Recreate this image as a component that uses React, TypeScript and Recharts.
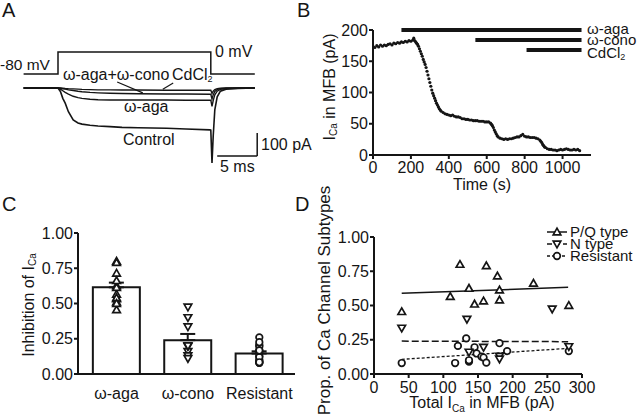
import React from "react";
import {
  ComposedChart,
  Line,
  Scatter,
  Bar,
  ErrorBar,
  XAxis,
  YAxis,
  ReferenceLine,
  Label,
} from "recharts";

const FONT = "'Liberation Sans', Arial, Helvetica, sans-serif";
const INK = "#151515";

// ---- A: example current traces (time in ms, current in pA)
const traceTime = [-4.3, -2.2, 0, 0.3, 0.6, 0.9, 1.3, 1.9, 2.5, 3, 4, 5, 6.5, 8, 10, 13.6, 16, 19, 19.1, 19.25, 19.4, 19.6, 19.9, 20.3, 21, 22.5, 24.6];
const controlPA = [0, 1, 0, -15, -45, -66, -103, -139, -152, -157, -162, -165, -168, -171, -173, -175, -178, -182, -183, -326, -210, -95, -38, -14, -5, -2, 0];
const agaPA = [0, -1, 0, -5, -12, -19, -27, -36, -42, -45, -49, -51, -52, -52, -52, -52, -53, -53, -53, -80, -55, -30, -14, -6, -2, -1, 0];
const conoPA = [0, 1, 0, -1, -3, -5, -8, -11, -14, -16, -19, -21, -23, -24, -25, -26, -26, -27, -27, -48, -30, -15, -7, -3, -1, 0, 0];
const cdPA = [0, 0, 0, 0, -1, -2, -3, -4, -5, -6, -7, -8, -8, -9, -9, -10, -10, -10, -10, -24, -14, -7, -3, -1, 0, 0, 0];
// voltage protocol
const stepTime = [-4.3, 0, 0, 19.1, 19.1, 24.6];
const stepMV = [-80, -80, 0, 0, -80, -80];

// ---- B: time course of I_Ca (s, pA)
const bTime = [0, 10, 20, 30, 40, 50, 60, 70, 80, 90, 100, 110, 120, 130, 140, 150, 160, 170, 180, 190, 200, 210, 215, 220, 225, 230, 235, 240, 245, 250, 255, 260, 265, 270, 275, 280, 285, 290, 295, 300, 305, 310, 315, 320, 325, 330, 335, 340, 345, 350, 355, 360, 370, 380, 390, 400, 410, 420, 430, 440, 450, 460, 470, 480, 490, 500, 510, 520, 530, 540, 550, 560, 570, 580, 590, 600, 610, 620, 625, 630, 635, 640, 645, 650, 655, 660, 670, 680, 690, 700, 710, 720, 730, 740, 750, 760, 770, 780, 790, 800, 810, 820, 830, 840, 850, 860, 870, 880, 885, 890, 895, 900, 905, 910, 920, 930, 940, 950, 960, 970, 980, 990, 1000, 1010, 1020, 1030, 1040, 1050, 1060, 1070, 1080, 1090];
const bCurrent = [174, 172, 175, 173, 176, 174, 176, 175, 177, 178, 176, 179, 178, 180, 179, 181, 180, 182, 181, 183, 182, 184, 187, 183, 181, 179, 177, 174, 170, 166, 162, 158, 153, 149, 145, 140, 134, 128, 122, 116, 110, 104, 99, 95, 91, 87, 83, 80, 77, 74, 72, 70, 68, 66, 65, 64, 63, 64, 62, 61, 61, 60, 58, 58, 57, 57, 56, 56, 55, 55, 55, 54, 54, 54, 53, 53, 53, 51, 49, 47, 44, 40, 37, 34, 31, 29, 27, 26, 25, 26, 25, 26, 26, 27, 28, 29, 29, 31, 33, 30, 29, 29, 28, 28, 28, 27, 26, 24, 22, 20, 17, 15, 13, 12, 10, 9, 9, 8, 8, 7, 8, 9, 8, 9, 10, 9, 8, 8, 9, 8, 9, 7];
const drugNames = ["ω-aga", "ω-cono", "CdCl2"];
const drugStart = [150, 540, 810];
const drugEnd = [1100, 1100, 1100];
const drugRow = [200, 184, 168];

// ---- D: per-cell proportions vs total I_Ca
const pqX = [40, 110, 124, 137, 145, 158, 162, 178, 181, 181, 230, 281];
const pqY = [0.455, 0.565, 0.8, 0.625, 0.51, 0.533, 0.79, 0.715, 0.613, 0.54, 0.662, 0.5];
const nX = [40, 134, 137, 158, 181, 181, 257, 281];
const nY = [0.335, 0.4, 0.16, 0.195, 0.13, 0.11, 0.475, 0.2];
const rX = [40, 117, 121, 133, 137, 137, 145, 148, 155, 158, 162, 181, 192, 281];
const rY = [0.08, 0.08, 0.205, 0.26, 0.09, 0.1, 0.195, 0.15, 0.127, 0.12, 0.083, 0.225, 0.167, 0.167];
const fitX = [40, 280];
const pqFit = [0.589, 0.633];
const nFit = [0.24, 0.236];
const rFit = [0.107, 0.187];

// ---- C: inhibition summary
const groups = ["ω-aga", "ω-cono", "Resistant"];
const groupMean = [0.615, 0.24, 0.145];
const groupSem = [0.033, 0.044, 0.016];

const traceRows = traceTime.map((t, i) => ({ t, control: controlPA[i], aga: agaPA[i], cono: conoPA[i], cd: cdPA[i] }));
const stepRows = stepTime.map((t, i) => ({ t, v: stepMV[i] }));
const bRows = bTime.map((t, i) => ({ t, i: bCurrent[i] }));
const zip = (xs: number[], ys: number[]) => xs.map((x, i) => ({ x, y: ys[i] }));
const barRows = groups.map((g, k) => ({ pos: k + 0.5, mean: groupMean[k], err: [0, groupSem[k]] }));
const dotsC = [
  ...pqY.map((v) => ({ pos: 0.5, v, kind: "up" })),
  ...nY.map((v) => ({ pos: 1.5, v, kind: "down" })),
  ...rY.map((v) => ({ pos: 2.5, v, kind: "circle" })),
];

const tickStyle = { fill: INK, fontSize: 16, fontFamily: FONT };
const axisStroke = { stroke: INK, strokeWidth: 2 };

const Marker = ({ cx, cy, kind }: { cx: number; cy: number; kind: string }) => {
  if (kind === "circle") return <circle cx={cx} cy={cy} r={3.3} fill="#fff" stroke={INK} strokeWidth={1.7} />;
  const s = 3.8;
  const pts =
    kind === "down"
      ? `${cx - s},${cy - s * 0.75} ${cx + s},${cy - s * 0.75} ${cx},${cy + s}`
      : `${cx - s},${cy + s * 0.75} ${cx + s},${cy + s * 0.75} ${cx},${cy - s}`;
  return <polygon points={pts} fill="#fff" stroke={INK} strokeWidth={1.7} strokeLinejoin="miter" />;
};

const sideTitle = (dx: number, dy: number, size: number, body: React.ReactNode) => (props: any) => {
  const vb = props.viewBox;
  const x = vb.x + dx;
  const y = vb.y + vb.height / 2 + dy;
  return (
    <text x={x} y={y} transform={`rotate(-90 ${x} ${y})`} textAnchor="middle" dominantBaseline="central" fontFamily={FONT} fontSize={size} fill={INK}>
      {body}
    </text>
  );
};

const bottomTitle = (dx: number, dy: number, body: React.ReactNode) => (props: any) => {
  const vb = props.viewBox;
  return (
    <text x={vb.x + vb.width / 2 + dx} y={vb.y + dy} textAnchor="middle" fontFamily={FONT} fontSize={16} fill={INK}>
      {body}
    </text>
  );
};

const ICa = (
  <>
    I<tspan fontSize={10} dy={4}>Ca</tspan>
  </>
);

const traceLine = { stroke: INK, dot: false, activeDot: false, isAnimationActive: false, type: "linear" as const, strokeLinecap: "butt" as const };

function PanelA() {
  return (
    <ComposedChart width={280} height={180} data={traceRows} margin={{ top: 0, right: 0, bottom: 0, left: 0 }}>
      <XAxis type="number" dataKey="t" domain={[-7.25, 27.75]} allowDataOverflow hide />
      <YAxis yAxisId="i" type="number" domain={[-400, 382.6]} allowDataOverflow hide />
      <YAxis yAxisId="v" type="number" domain={[-465.5, 189.1]} allowDataOverflow hide />
      <Line yAxisId="v" data={stepRows} dataKey="v" strokeWidth={1.5} {...traceLine} />
      <Line yAxisId="i" dataKey="cd" strokeWidth={1.4} {...traceLine} />
      <Line yAxisId="i" dataKey="cono" strokeWidth={1.4} {...traceLine} />
      <Line yAxisId="i" dataKey="aga" strokeWidth={1.4} {...traceLine} />
      <Line yAxisId="i" dataKey="control" strokeWidth={1.6} {...traceLine} />
      {/* pointers from the drug labels */}
      <ReferenceLine yAxisId="i" segment={[{ x: 7.4, y: 26 }, { x: 10.6, y: -21 }]} stroke={INK} strokeWidth={1.2} ifOverflow="visible" />
      <ReferenceLine yAxisId="i" segment={[{ x: 14.4, y: 22 }, { x: 13.1, y: -5 }]} stroke={INK} strokeWidth={1.2} ifOverflow="visible" />
      {/* scale bars: 100 pA, 5 ms */}
      <ReferenceLine yAxisId="i" segment={[{ x: 24.9, y: -196 }, { x: 24.9, y: -296 }]} stroke={INK} strokeWidth={1.5} ifOverflow="visible" />
      <ReferenceLine yAxisId="i" segment={[{ x: 19.9, y: -296 }, { x: 24.9, y: -296 }]} stroke={INK} strokeWidth={1.5} ifOverflow="visible" />
    </ComposedChart>
  );
}

function PanelB() {
  return (
    <ComposedChart width={320} height={200} margin={{ top: 30, right: 49, bottom: 0, left: 0 }}>
      <XAxis
        type="number"
        dataKey="t"
        domain={[0, 1150]}
        ticks={[0, 200, 400, 600, 800, 1000]}
        interval={0}
        allowDataOverflow
        height={45}
        tick={tickStyle}
        tickSize={4}
        tickMargin={3}
        axisLine={axisStroke}
        tickLine={axisStroke}
      >
        <Label content={bottomTitle(0, 35, "Time (s)")} />
      </XAxis>
      <YAxis
        type="number"
        domain={[0, 200]}
        ticks={[0, 50, 100, 150, 200]}
        interval={0}
        allowDataOverflow
        width={53}
        tick={tickStyle}
        tickSize={4}
        tickMargin={1}
        axisLine={axisStroke}
        tickLine={axisStroke}
      >
        <Label
          content={sideTitle(9, -5.5, 16, (
            <>
              {ICa}
              <tspan dy={-4}> in MFB (pA)</tspan>
            </>
          ))}
        />
      </YAxis>
      {drugNames.map((d, k) => (
        <ReferenceLine
          key={d}
          segment={[{ x: drugStart[k], y: drugRow[k] }, { x: drugEnd[k], y: drugRow[k] }]}
          stroke={INK}
          strokeWidth={4}
          ifOverflow="visible"
        />
      ))}
      <Scatter
        data={bRows}
        dataKey="i"
        isAnimationActive={false}
        shape={(p: any) => <circle cx={p.cx} cy={p.cy} r={1.6} fill={INK} />}
      />
    </ComposedChart>
  );
}

function PanelC() {
  return (
    <ComposedChart width={320} height={207} data={barRows} margin={{ top: 23, right: 25, bottom: 0, left: 0 }}>
      <XAxis
        type="number"
        dataKey="pos"
        domain={[-0.04, 3]}
        ticks={[0.5, 1.5, 2.5]}
        interval={0}
        allowDataOverflow
        tickFormatter={(v: number) => groups[Math.floor(v)]}
        height={43}
        tick={tickStyle}
        tickLine={false}
        tickMargin={8}
        axisLine={axisStroke}
      />
      <YAxis
        type="number"
        domain={[0, 1]}
        ticks={[0, 0.25, 0.5, 0.75, 1]}
        interval={0}
        allowDataOverflow
        tickFormatter={(v: number) => v.toFixed(2)}
        width={78}
        tick={tickStyle}
        tickSize={4}
        tickMargin={1}
        axisLine={axisStroke}
        tickLine={axisStroke}
      >
        <Label
          content={sideTitle(28, 1.5, 16, (
            <>
              Inhibition of {ICa}
            </>
          ))}
        />
      </YAxis>
      <Bar dataKey="mean" barSize={47} fill="#fff" stroke={INK} strokeWidth={2} isAnimationActive={false}>
        <ErrorBar dataKey="err" direction="y" width={7.5} stroke={INK} strokeWidth={2} />
      </Bar>
      <Scatter
        data={dotsC}
        dataKey="v"
        isAnimationActive={false}
        shape={(p: any) => <Marker cx={p.cx} cy={p.cy} kind={p.payload?.kind ?? p.kind} />}
      />
    </ComposedChart>
  );
}

function PanelD() {
  const fitLine = (ys: number[], dash?: string, w = 1.5) => (
    <Line
      data={zip(fitX, ys)}
      dataKey="y"
      stroke={INK}
      strokeWidth={w}
      strokeDasharray={dash}
      dot={false}
      activeDot={false}
      isAnimationActive={false}
      type="linear"
    />
  );
  return (
    <ComposedChart width={340} height={237} margin={{ top: 57, right: 58, bottom: 0, left: 0 }}>
      <XAxis
        type="number"
        dataKey="x"
        domain={[0, 300]}
        ticks={[0, 50, 100, 150, 200, 250, 300]}
        interval={0}
        allowDataOverflow
        height={43}
        tick={tickStyle}
        tickSize={4}
        tickMargin={4}
        axisLine={axisStroke}
        tickLine={axisStroke}
      >
        <Label
          content={bottomTitle(4, 34, (
            <>
              Total {ICa}
              <tspan dy={-4}> in MFB  (pA)</tspan>
            </>
          ))}
        />
      </XAxis>
      <YAxis
        type="number"
        domain={[0, 1]}
        ticks={[0, 0.25, 0.5, 0.75, 1]}
        interval={0}
        allowDataOverflow
        tickFormatter={(v: number) => v.toFixed(2)}
        width={74}
        tick={tickStyle}
        tickSize={4}
        tickMargin={1}
        axisLine={axisStroke}
        tickLine={axisStroke}
      >
        <Label content={sideTitle(24, -5, 17, "Prop. of Ca Channel Subtypes")} />
      </YAxis>
      {fitLine(pqFit)}
      {fitLine(nFit, "7 3")}
      {fitLine(rFit, "3 2", 1.3)}
      <Scatter data={zip(rX, rY)} dataKey="y" isAnimationActive={false} shape={(p: any) => <Marker cx={p.cx} cy={p.cy} kind="circle" />} />
      <Scatter data={zip(nX, nY)} dataKey="y" isAnimationActive={false} shape={(p: any) => <Marker cx={p.cx} cy={p.cy} kind="down" />} />
      <Scatter data={zip(pqX, pqY)} dataKey="y" isAnimationActive={false} shape={(p: any) => <Marker cx={p.cx} cy={p.cy} kind="up" />} />
    </ComposedChart>
  );
}

function Notes() {
  const legendRows = [
    { label: "P/Q type", kind: "up", dash: undefined, y: 232 },
    { label: "N type", kind: "down", dash: "5 3", y: 244 },
    { label: "Resistant", kind: "circle", dash: "3 2", y: 256 },
  ];
  return (
    <svg width={640} height={417} style={{ position: "absolute", left: 0, top: 0, pointerEvents: "none" }} fontFamily={FONT} fill={INK}>
      <text x={2} y={17} fontSize={20}>A</text>
      <text x={297} y={17} fontSize={20}>B</text>
      <text x={2} y={211} fontSize={20}>C</text>
      <text x={295} y={211} fontSize={20}>D</text>

      <text x={0} y={70} fontSize={15.5}>-80 mV</text>
      <text x={215} y={57} fontSize={16}>0 mV</text>
      <text x={63} y={80} fontSize={16}>ω-aga+ω-cono</text>
      <text x={172} y={80} fontSize={16}>
        CdCl<tspan fontSize={9} dy={2}>2</tspan>
      </text>
      <text x={124} y={112} fontSize={16}>ω-aga</text>
      <text x={123} y={145} fontSize={16}>Control</text>
      <text x={261} y={150} fontSize={16}>100 pA</text>
      <text x={220} y={172} fontSize={16}>5 ms</text>

      <text x={587} y={34} fontSize={15}>ω-aga</text>
      <text x={587} y={45} fontSize={15}>ω-cono</text>
      <text x={587} y={58} fontSize={15}>
        CdCl<tspan fontSize={9} dy={2}>2</tspan>
      </text>

      {legendRows.map((r) => (
        <g key={r.label}>
          <line x1={547} x2={567} y1={r.y} y2={r.y} stroke={INK} strokeWidth={1.5} strokeDasharray={r.dash} />
          <Marker cx={557} cy={r.y} kind={r.kind} />
          <text x={570} y={r.y + 5} fontSize={15}>{r.label}</text>
        </g>
      ))}
    </svg>
  );
}

export default function App() {
  return (
    <div style={{ position: "absolute", left: 0, top: 0, width: 640, height: 417, background: "#fff", fontFamily: FONT }}>
      <div style={{ position: "absolute", left: 0, top: 0 }}>
        <PanelA />
      </div>
      <div style={{ position: "absolute", left: 320, top: 0 }}>
        <PanelB />
      </div>
      <div style={{ position: "absolute", left: 0, top: 210 }}>
        <PanelC />
      </div>
      <div style={{ position: "absolute", left: 300, top: 180 }}>
        <PanelD />
      </div>
      <Notes />
    </div>
  );
}
